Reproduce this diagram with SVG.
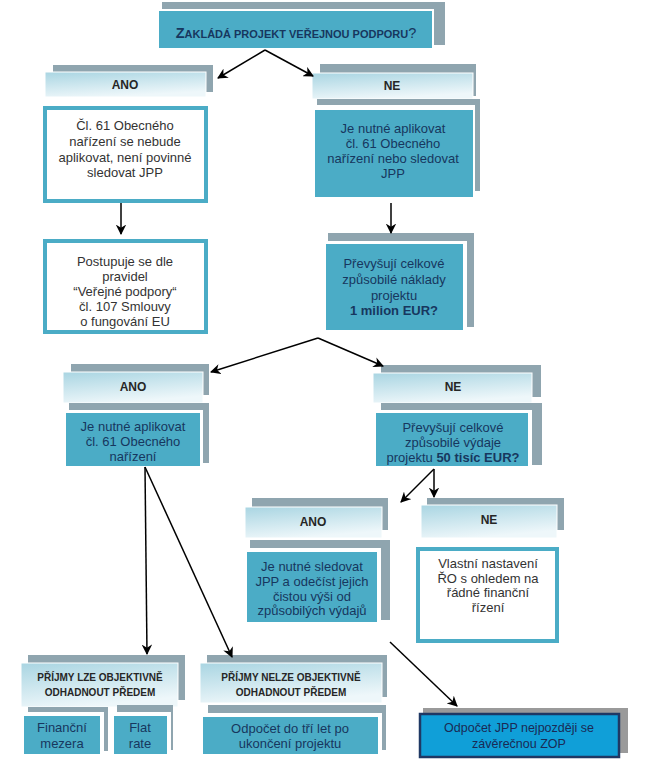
<svg xmlns="http://www.w3.org/2000/svg" width="657" height="773" viewBox="0 0 657 773">
<defs>
<linearGradient id="hg" x1="0" y1="0" x2="0.35" y2="1">
<stop offset="0" stop-color="#A9D5E2"/>
<stop offset="1" stop-color="#EEF7FA"/>
</linearGradient>
<marker id="ah" viewBox="0 0 10 10" refX="9" refY="5" markerWidth="7" markerHeight="7" orient="auto">
<path d="M0,0 L10,5 L0,10 L3,5 z" fill="#000"/>
</marker>
<style>
.sh{fill:#8FA5AF}
.hd{fill:url(#hg);stroke:#fff;stroke-width:1}
.wf{fill:#fff}
.tl{fill:#4BACC6}
.wb{fill:#fff;stroke:#4BACC6;stroke-width:4}
.ht{font-family:"Liberation Sans",Arial,sans-serif;font-weight:bold;font-size:12px;fill:#262626;text-anchor:middle}
.hs{font-family:"Liberation Sans",Arial,sans-serif;font-weight:bold;font-size:10px;fill:#262626;text-anchor:middle}
.bt{font-family:"Liberation Sans",Arial,sans-serif;font-size:13px;fill:#333;text-anchor:middle}
.nt{font-family:"Liberation Sans",Arial,sans-serif;font-size:13px;fill:#17375E;text-anchor:middle}
.cn{stroke:#000;stroke-width:1.5;fill:none;marker-end:url(#ah)}
</style>
</defs>
<rect width="657" height="773" fill="#fff"/>

<g id="top">
<rect class="sh" x="162" y="2" width="283" height="43"/>
<rect x="158" y="10" width="275" height="39" fill="#4BACC6" stroke="#fff" stroke-width="2"/>
<text x="296" y="38" font-family="'Liberation Sans',Arial,sans-serif" font-weight="bold" font-size="11" fill="#17375E" text-anchor="middle"><tspan font-size="14.5">Z</tspan>AKLÁDÁ PROJEKT VEŘEJNOU PODPORU<tspan font-size="14.5" font-weight="normal">?</tspan></text>
</g>

<g id="ano1">
<rect class="sh" x="53" y="65" width="160" height="27"/>
<rect class="hd" x="45" y="72" width="161" height="25"/>
<text class="ht" x="125" y="89">ANO</text>
</g>

<g id="box-ano1">
<rect class="wb" x="45" y="108" width="161" height="93"/>
<text class="bt" x="125" y="130">Čl. 61 Obecného</text>
<text class="bt" x="125" y="146">nařízení se nebude</text>
<text class="bt" x="125" y="162">aplikovat, není povinné</text>
<text class="bt" x="125" y="177">sledovat JPP</text>
</g>

<g id="box-postupuje">
<rect class="wb" x="45" y="241" width="161" height="91"/>
<text class="bt" x="125" y="266">Postupuje se dle</text>
<text class="bt" x="125" y="281">pravidel</text>
<text class="bt" x="125" y="296">“Veřejné podpory“</text>
<text class="bt" x="125" y="311">čl. 107 Smlouvy</text>
<text class="bt" x="125" y="326">o fungování EU</text>
</g>

<g id="ne1">
<rect class="sh" x="320" y="64" width="156" height="32"/>
<rect class="hd" x="312" y="73" width="161" height="26"/>
<text class="ht" x="392" y="90">NE</text>
</g>

<g id="box-ne1">
<rect class="sh" x="317" y="99" width="163" height="92"/>
<rect class="wf" x="312" y="105" width="163" height="95"/>
<rect class="tl" x="315" y="110" width="158" height="87"/>
<text class="nt" x="393" y="133">Je nutné aplikovat</text>
<text class="nt" x="393" y="148">čl. 61 Obecného</text>
<text class="nt" x="393" y="163">nařízení nebo sledovat</text>
<text class="nt" x="393" y="178">JPP</text>
</g>

<g id="box-1mil">
<rect class="sh" x="328" y="233" width="146" height="94"/>
<rect class="wf" x="323" y="241" width="144" height="92"/>
<rect class="tl" x="326" y="244" width="137" height="86"/>
<text class="nt" x="394" y="268">Převyšují celkové</text>
<text class="nt" x="394" y="284">způsobilé náklady</text>
<text class="nt" x="394" y="300">projektu</text>
<text class="nt" x="394" y="315" font-weight="bold">1 milion EUR?</text>
</g>

<g id="ano2">
<rect class="sh" x="71" y="364" width="138" height="31"/>
<rect class="hd" x="63" y="372" width="140" height="31"/>
<text class="ht" x="133" y="391">ANO</text>
</g>

<g id="box-ano2">
<rect class="sh" x="69" y="403" width="140" height="60"/>
<rect class="wf" x="63" y="410" width="140" height="58"/>
<rect class="tl" x="66" y="413" width="134" height="53"/>
<text class="nt" x="133" y="431">Je nutné aplikovat</text>
<text class="nt" x="133" y="446">čl. 61 Obecného</text>
<text class="nt" x="133" y="461">nařízení</text>
</g>

<g id="ne2">
<rect class="sh" x="381" y="365" width="160" height="32"/>
<rect class="hd" x="373" y="373" width="159" height="30"/>
<text class="ht" x="453" y="391">NE</text>
</g>

<g id="box-ne2">
<rect class="sh" x="381" y="403" width="161" height="62"/>
<rect class="wf" x="373" y="410" width="159" height="58"/>
<rect class="tl" x="376" y="413" width="152" height="53"/>
<text class="nt" x="453" y="432">Převyšují celkové</text>
<text class="nt" x="453" y="447">způsobilé výdaje</text>
<text class="nt" x="453" y="462">projektu <tspan font-weight="bold">50 tisíc EUR?</tspan></text>
</g>

<g id="ano3">
<rect class="sh" x="252" y="498" width="136" height="32"/>
<rect class="hd" x="245" y="507" width="137" height="31"/>
<text class="ht" x="313" y="526">ANO</text>
</g>

<g id="box-ano3">
<rect class="sh" x="250" y="540" width="140" height="80"/>
<rect class="wf" x="243" y="548" width="138" height="78"/>
<rect class="tl" x="247" y="552" width="130" height="70"/>
<text class="nt" x="312" y="571">Je nutné sledovat</text>
<text class="nt" x="312" y="586">JPP a odečíst jejich</text>
<text class="nt" x="312" y="601">čistou výši od</text>
<text class="nt" x="312" y="615">způsobilých výdajů</text>
</g>

<g id="ne3">
<rect class="sh" x="427" y="498" width="137" height="32"/>
<rect class="hd" x="421" y="505" width="136" height="33"/>
<text class="ht" x="489" y="524">NE</text>
</g>

<g id="box-ne3">
<rect class="wb" x="418" y="549" width="139" height="92"/>
<text class="bt" x="488" y="568">Vlastní nastavení</text>
<text class="bt" x="488" y="583">ŘO s ohledem na</text>
<text class="bt" x="488" y="597">řádné finanční</text>
<text class="bt" x="488" y="612">řízení</text>
</g>

<g id="lze">
<rect class="sh" x="28" y="655" width="157" height="45"/>
<rect class="hd" x="21" y="663" width="157" height="44"/>
<text class="hs" x="100" y="681">PŘÍJMY LZE OBJEKTIVNĚ</text>
<text class="hs" x="100" y="696">ODHADNOUT PŘEDEM</text>
</g>

<g id="box-mezera">
<rect class="sh" x="28" y="707" width="80" height="44"/>
<rect class="wf" x="20" y="712" width="84" height="46"/>
<rect class="tl" x="24" y="716" width="76" height="38"/>
<text class="nt" x="62" y="732">Finanční</text>
<text class="nt" x="62" y="748">mezera</text>
</g>

<g id="box-flat">
<rect class="sh" x="117" y="705" width="56" height="45"/>
<rect class="wf" x="110" y="712" width="61" height="46"/>
<rect class="tl" x="114" y="716" width="53" height="38"/>
<text class="nt" x="140" y="732">Flat</text>
<text class="nt" x="140" y="748">rate</text>
</g>

<g id="nelze">
<rect class="sh" x="207" y="655" width="180" height="42"/>
<rect class="hd" x="200" y="663" width="182" height="40"/>
<text class="hs" x="291" y="681">PŘÍJMY NELZE OBJEKTIVNĚ</text>
<text class="hs" x="291" y="696">ODHADNOUT PŘEDEM</text>
</g>

<g id="box-odpocet3">
<rect class="sh" x="208" y="705" width="178" height="45"/>
<rect class="wf" x="199" y="713" width="183" height="45"/>
<rect class="tl" x="203" y="717" width="175" height="37"/>
<text class="nt" x="290" y="733">Odpočet do tří let po</text>
<text class="nt" x="290" y="748">ukončení projektu</text>
</g>

<g id="box-zop">
<rect x="423" y="708" width="205" height="45" fill="#9A9A9A"/>
<rect x="420" y="714" width="199" height="43" fill="#109FD8" stroke="#1F3864" stroke-width="2.5"/>
<text x="519" y="732" font-family="'Liberation Sans',Arial,sans-serif" font-size="12.5" fill="#1A2A55" text-anchor="middle">Odpočet JPP nejpozději se</text>
<text x="519" y="748" font-family="'Liberation Sans',Arial,sans-serif" font-size="12.5" fill="#1A2A55" text-anchor="middle">závěrečnou ZOP</text>
</g>

<g id="connectors">
<line class="cn" x1="265" y1="50" x2="218" y2="78"/>
<line class="cn" x1="265" y1="50" x2="313" y2="76"/>
<line class="cn" x1="121" y1="203" x2="121" y2="234"/>
<line class="cn" x1="391" y1="203" x2="391" y2="233"/>
<line class="cn" x1="318" y1="338" x2="211" y2="372"/>
<line class="cn" x1="318" y1="338" x2="383" y2="366"/>
<line class="cn" x1="434" y1="469" x2="401" y2="502"/>
<line class="cn" x1="434" y1="469" x2="434" y2="497"/>
<line class="cn" x1="145" y1="467" x2="147" y2="654"/>
<line class="cn" x1="145" y1="467" x2="232" y2="657"/>
<line class="cn" x1="390" y1="642" x2="457" y2="706"/>
</g>
</svg>
